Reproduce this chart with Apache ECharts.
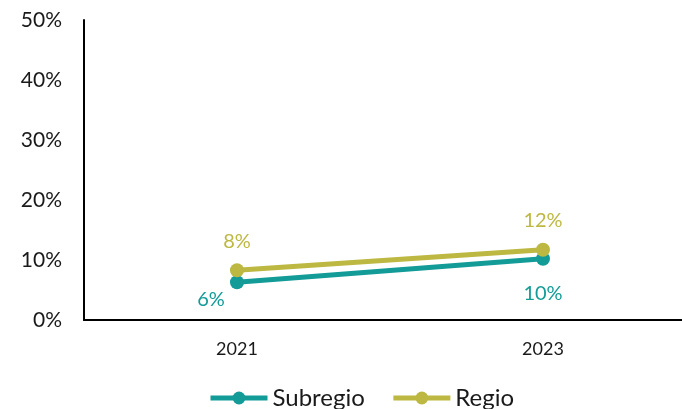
<!DOCTYPE html>
<html>
<head>
<meta charset="utf-8">
<script src="https://cdn.jsdelivr.net/npm/echarts@6/dist/echarts.min.js"></script>
<style>
  html, body { margin: 0; padding: 0; background: #fff; overflow: hidden; }
  #chart { width: 696px; height: 409px; }
</style>
</head>
<body>
<div id="chart"></div>
<script>
var years = ['2021', '2023']
var subregio = [0.063, 0.102]
var regio = [0.083, 0.117]
var yTicks = [0, 0.1, 0.2, 0.3, 0.4, 0.5]

var teal = '#139B98'
var olive = '#BDB842'
var font = 'Lato'

function pct (v) {
  return Math.round(v * 100) + '%'
}

// chart div is a little wider than the window so the x axis runs off the right edge
var chart = echarts.init(document.getElementById('chart'))
var option = {
  animation: false,
  textStyle: { fontFamily: font },
  grid: { left: 84, right: 0, top: 20, bottom: 89, containLabel: false },
  legend: {
    bottom: -6,
    left: 203,
    itemWidth: 57,
    itemHeight: 16,
    itemGap: 26,
    lineStyle: { width: 5 },
    textStyle: { fontSize: 24, color: '#1a1a1a', fontFamily: font },
    data: ['Subregio', 'Regio']
  },
  xAxis: {
    type: 'category',
    data: years,
    axisLine: { lineStyle: { color: '#000', width: 2 } },
    axisTick: { show: false },
    axisLabel: { fontSize: 18, color: '#1a1a1a', margin: 20 }
  },
  yAxis: {
    type: 'value',
    min: yTicks[0],
    max: yTicks[yTicks.length - 1],
    interval: 0.1,
    splitLine: { show: false },
    axisLine: { show: true, lineStyle: { color: '#000', width: 2 } },
    axisTick: { show: false },
    axisLabel: { fontSize: 21, color: '#1a1a1a', margin: 22, formatter: pct }
  },
  series: [
    {
      name: 'Subregio',
      type: 'line',
      data: subregio,
      color: teal,
      symbol: 'circle',
      symbolSize: 14,
      lineStyle: { width: 5, color: teal },
      label: {
        show: true,
        position: 'bottom',
        distance: 6,
        fontSize: 20,
        color: teal,
        formatter: function (p) { return pct(p.value) }
      },
      labelLayout: function (p) {
        return p.dataIndex === 0 ? { dx: -26, dy: -6 } : { dy: 12 }
      }
    },
    {
      name: 'Regio',
      type: 'line',
      data: regio,
      color: olive,
      symbol: 'circle',
      symbolSize: 14,
      lineStyle: { width: 5, color: olive },
      label: {
        show: true,
        position: 'top',
        distance: 12,
        fontSize: 20,
        color: olive,
        formatter: function (p) { return pct(p.value) }
      }
    }
  ]
}
chart.setOption(option)
</script>
</body>
</html>
